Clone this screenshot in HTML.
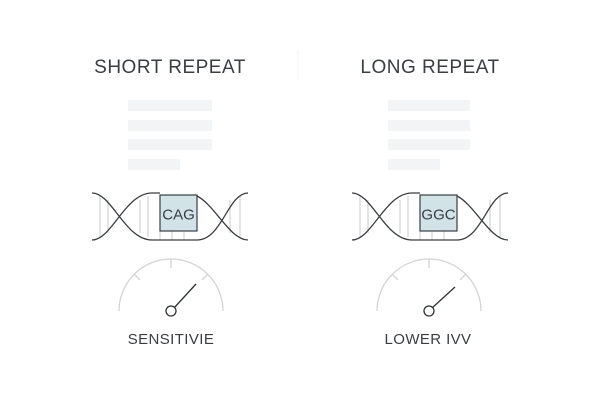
<!DOCTYPE html>
<html><head><meta charset="utf-8"><style>
html,body{margin:0;padding:0;background:#fff;width:600px;height:400px;overflow:hidden}
svg{display:block}
text{font-family:"Liberation Sans",sans-serif;fill:#3a3d42}
</style></head><body>
<svg width="600" height="400" viewBox="0 0 600 400" xmlns="http://www.w3.org/2000/svg">
<line x1="298" y1="50" x2="298" y2="80" stroke="#f3f3f3" stroke-width="1"/>
<text x="170" y="73" font-size="19" text-anchor="middle" letter-spacing="0.5">SHORT REPEAT</text>
<text x="430" y="73" font-size="19" text-anchor="middle" letter-spacing="0.5">LONG REPEAT</text>
<g fill="#f3f4f5">
<rect x="128" y="100" width="84" height="11" rx="1"/>
<rect x="128" y="120" width="84" height="11" rx="1"/>
<rect x="128" y="139" width="84" height="11" rx="1"/>
<rect x="128" y="159" width="52" height="11" rx="1"/>
<rect x="388" y="100" width="82" height="11" rx="1"/>
<rect x="388" y="120" width="82" height="11" rx="1"/>
<rect x="388" y="139" width="82" height="11" rx="1"/>
<rect x="388" y="159" width="52" height="11" rx="1"/>
</g>
<g id="dna">
<g stroke="#c8c8c8" stroke-width="1">
<line x1="100" y1="196" x2="100" y2="237"/><line x1="108" y1="200" x2="108" y2="233"/>
<line x1="140" y1="200" x2="140" y2="233"/><line x1="148" y1="196" x2="148" y2="237"/>
<line x1="160" y1="231" x2="160" y2="240"/><line x1="172" y1="231" x2="172" y2="240"/><line x1="184" y1="231" x2="184" y2="240"/>
<line x1="230" y1="200" x2="230" y2="233"/><line x1="240" y1="196" x2="240" y2="237"/>
</g>
<rect x="160" y="195" width="37" height="36" fill="#d2e3e8" stroke="#3a3d42" stroke-width="1.2"/>
<g fill="none" stroke="#3a3d42" stroke-width="1.3">
<path d="M92,193 C112,193 125,240 152,240 L197,240 C222,240 228,193 248,193"/>
<path d="M92,240 C112,240 125,193 152,193 L160,193"/>
<path d="M197,196 C215,205 230,240 248,240"/>
</g>
</g>
<text x="178.5" y="219.5" font-size="15" text-anchor="middle">CAG</text>
<use href="#dna" transform="translate(260,0)"/>
<text x="438.5" y="219.5" font-size="15" text-anchor="middle">GGC</text>
<g fill="none" stroke="#d4d4d4" stroke-width="1.3">
<path d="M119,311 A52,52 0 0 1 223,311"/>
<line x1="171" y1="259" x2="171" y2="268"/>
<line x1="134" y1="274" x2="140" y2="280"/>
<line x1="208" y1="274" x2="202" y2="280"/>
<path d="M377,311 A52,52 0 0 1 481,311"/>
<line x1="429" y1="259" x2="429" y2="268"/>
<line x1="392" y1="274" x2="398" y2="280"/>
<line x1="466" y1="274" x2="460" y2="280"/>
</g>
<g stroke="#2f3236" stroke-width="1.3" fill="#fff">
<line x1="174" y1="308" x2="196" y2="284"/>
<circle cx="171" cy="311" r="5"/>
<line x1="432" y1="308" x2="455" y2="287"/>
<circle cx="429" cy="311" r="5"/>
</g>
<text x="171" y="344" font-size="15" text-anchor="middle" letter-spacing="0.4">SENSITIVIE</text>
<text x="428" y="344" font-size="15" text-anchor="middle" letter-spacing="0.4">LOWER IVV</text>
</svg>
</body></html>
